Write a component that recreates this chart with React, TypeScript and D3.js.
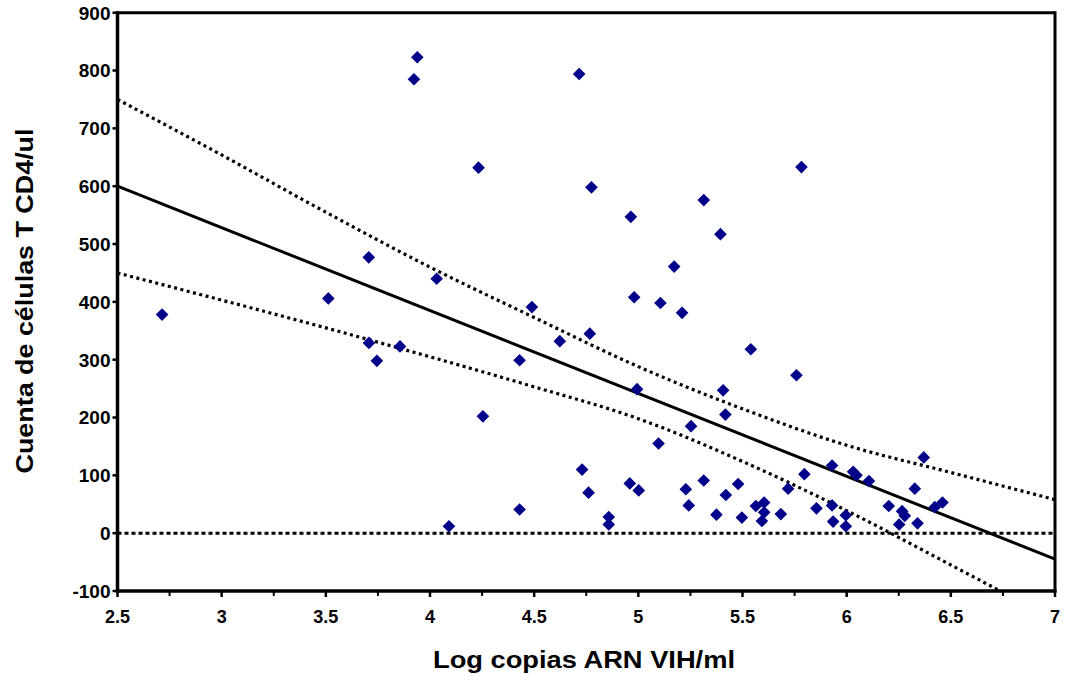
import React from "react";
import * as d3 from "d3";

// ---- data ----
const logCopies: number[] = [
  2.714, 3.512, 3.706, 3.707, 3.745, 3.856, 3.939, 3.923, 4.032, 4.233,
  4.254, 4.091, 4.43, 4.43, 4.489, 4.623, 4.767, 4.775, 4.964, 5.314,
  5.394, 5.172, 4.98, 5.106, 5.21, 5.54, 5.783, 4.716, 4.994, 5.097,
  4.73, 4.761, 4.959, 5.002, 4.858, 4.858, 5.759, 5.407, 5.418, 5.253,
  5.93, 5.797, 6.031, 6.047, 6.107, 6.37, 6.327, 6.46, 6.423, 5.228,
  5.314, 5.479, 5.42, 5.242, 5.719, 5.564, 5.604, 5.604, 5.593, 5.375,
  5.497, 5.684, 5.855, 5.93, 5.935, 5.996, 5.996, 6.202, 6.266, 6.279,
  6.252, 6.34,
];
const cd4Counts: number[] = [
  378, 406, 477, 329, 298, 323, 823, 785, 440, 632,
  202, 12, 41, 299, 391, 332, 345, 598, 547, 576,
  517, 461, 408, 398, 381, 318, 633, 794, 249, 155,
  110, 70, 86, 74, 28, 15, 273, 247, 205, 185,
  117, 102, 106, 100, 90, 131, 77, 53, 45, 76,
  91, 85, 66, 48, 77, 47, 53, 36, 21, 32,
  27, 33, 43, 48, 20, 31, 12, 47, 38, 30,
  15, 17,
];

const fitX: number[] = [2.5, 7];
const fitY: number[] = [600, -45];

const bandX: number[] = [2.5, 3, 3.5, 4, 4.5, 5, 5.5, 6, 6.5, 7];
const bandUpper: number[] = [750, 654, 555, 460, 373, 288, 215, 152, 105, 58];
const bandLower: number[] = [450, 403, 355, 305, 253, 198, 124, 39, -55, -150];

const yTicks: number[] = [-100, 0, 100, 200, 300, 400, 500, 600, 700, 800, 900];
const xTickLabels: number[] = [2.5, 3, 3.5, 4, 4.5, 5, 5.5, 6, 6.5, 7];
const xMinorTicks: number[] = [2.75, 3.25, 3.75, 4.25, 4.75, 5.25, 5.75, 6.25, 6.75];

const xTitle = "Log copias ARN VIH/ml";
const yTitle = "Cuenta de células T CD4/ul";

export default function App() {
  const W = 1065;
  const H = 681;
  const left = 117.5;
  const right = 1055;
  const top = 12.7;
  const bottom = 591;

  const x = d3.scaleLinear().domain([2.5, 7]).range([left, right]);
  const y = d3.scaleLinear().domain([-100, 900]).range([bottom, top]);

  const fitLine = d3
    .line<number>()
    .x((_, i) => x(fitX[i]))
    .y((d) => y(d));
  const bandLine = d3
    .line<number>()
    .x((_, i) => x(bandX[i]))
    .y((d) => y(d))
    .curve(d3.curveMonotoneX);

  const diamond = d3.symbol().type(d3.symbolSquare).size(80)() as string;

  const font = "'Liberation Sans', Arial, Helvetica, sans-serif";
  const fmt = (v: number) => String(v);

  return (
    <svg
      width={W}
      height={H}
      style={{ position: "absolute", left: 0, top: 0, background: "#fff" }}
      fontFamily={font}
    >
      <defs>
        <clipPath id="plotClip">
          <rect x={left} y={top} width={right - left} height={bottom - top} />
        </clipPath>
      </defs>
      <rect x={0} y={0} width={W} height={H} fill="#fff" />

      {/* zero reference line */}
      <line
        x1={x(2.5)}
        x2={x(7)}
        y1={y(0)}
        y2={y(0)}
        stroke="#000"
        strokeWidth={3}
        strokeDasharray="4 3"
      />

      <g clipPath="url(#plotClip)">
        <path
          d={bandLine(bandUpper) || ""}
          fill="none"
          stroke="#000"
          strokeWidth={3.2}
          strokeDasharray="3 3.5"
        />
        <path
          d={bandLine(bandLower) || ""}
          fill="none"
          stroke="#000"
          strokeWidth={3.2}
          strokeDasharray="3 3.5"
        />
        <path d={fitLine(fitY) || ""} fill="none" stroke="#000" strokeWidth={3} />
      </g>

      {/* points */}
      <g fill="#00008b">
        {logCopies.map((lx, i) => (
          <path
            key={i}
            d={diamond}
            transform={`translate(${x(lx)},${y(cd4Counts[i])}) rotate(45)`}
          />
        ))}
      </g>

      {/* frame */}
      <line x1={left} x2={right} y1={top} y2={top} stroke="#000" strokeWidth={3} />
      <line x1={right} x2={right} y1={top - 1.5} y2={bottom + 1.5} stroke="#000" strokeWidth={3} />
      <line x1={left} x2={left} y1={top - 1.5} y2={bottom + 2} stroke="#000" strokeWidth={3.5} />
      <line x1={left - 1.5} x2={right + 1.5} y1={bottom} y2={bottom} stroke="#000" strokeWidth={3.5} />

      {/* y ticks */}
      {yTicks.map((t) => (
        <g key={"y" + t}>
          <line x1={left - 5} x2={left} y1={y(t)} y2={y(t)} stroke="#000" strokeWidth={2.5} />
          <text
            x={left - 7}
            y={y(t)}
            dy="0.36em"
            textAnchor="end"
            fontSize={19}
            fontWeight="bold"
            fill="#000"
          >
            {fmt(t)}
          </text>
        </g>
      ))}

      {/* x ticks */}
      {xTickLabels.map((t) => (
        <g key={"x" + t}>
          <line x1={x(t)} x2={x(t)} y1={bottom} y2={bottom + 6} stroke="#000" strokeWidth={2.5} />
          <text
            x={x(t)}
            y={622.5}
            textAnchor="middle"
            fontSize={18}
            fontWeight="bold"
            fill="#000"
          >
            {fmt(t)}
          </text>
        </g>
      ))}
      {xMinorTicks.map((t) => (
        <line key={"m" + t} x1={x(t)} x2={x(t)} y1={bottom} y2={bottom + 5} stroke="#000" strokeWidth={2} />
      ))}

      {/* titles */}
      <text
        x={584}
        y={668}
        textAnchor="middle"
        fontSize={23}
        fontWeight="bold"
        fill="#000"
        textLength={302}
        lengthAdjust="spacingAndGlyphs"
      >
        {xTitle}
      </text>
      <text
        transform="translate(33,301) rotate(-90)"
        textAnchor="middle"
        fontSize={23}
        fontWeight="bold"
        fill="#000"
        textLength={345}
        lengthAdjust="spacingAndGlyphs"
      >
        {yTitle}
      </text>
    </svg>
  );
}
